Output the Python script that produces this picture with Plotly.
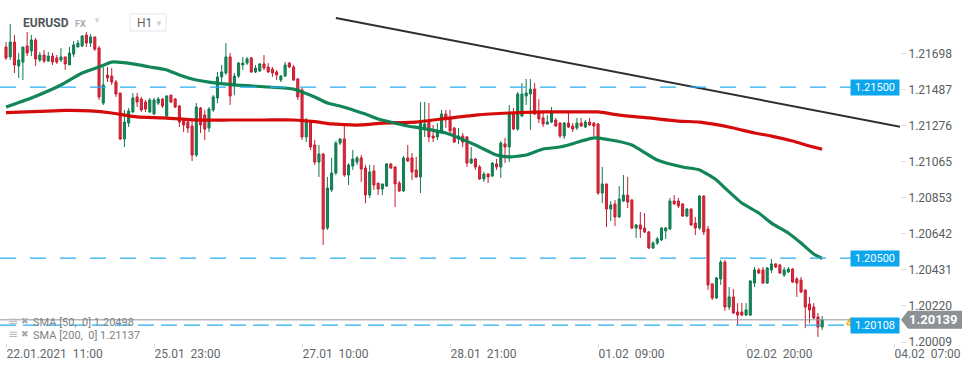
import plotly.graph_objects as go

# ---------------- data (EURUSD, H1) ----------------
open_ = [1.21735,1.21677,1.21764,1.21624,1.21647,1.21741,1.21712,1.21776,1.21659,1.21688,
1.21653,1.21682,1.21671,1.21659,1.21677,1.21630,1.21694,1.21735,1.21741,1.21805,
1.21758,1.21794,1.21729,1.21407,1.21571,1.21565,1.21530,1.21466,1.21197,1.21290,
1.21355,1.21443,1.21431,1.21413,1.21355,1.21343,1.21407,1.21431,1.21331,1.21454,
1.21431,1.21390,1.21302,1.21296,1.21273,1.21103,1.21378,1.21337,1.21261,1.21367,
1.21437,1.21560,1.21583,1.21677,1.21507,1.21565,1.21630,1.21641,1.21671,1.21589,
1.21595,1.21636,1.21618,1.21606,1.21589,1.21542,1.21565,1.21641,1.21618,1.21548,
1.21484,1.21209,1.21296,1.21162,1.21062,1.21109,1.20676,1.20899,1.20998,1.21173,
1.21197,1.20986,1.21039,1.21062,1.21086,1.21027,1.20869,1.21010,1.20939,1.20904,
1.20922,1.21051,1.21033,1.20939,1.20893,1.21086,1.21086,1.21016,1.20975,1.21267,
1.21296,1.21214,1.21209,1.21238,1.21343,1.21314,1.21261,1.21197,1.21214,1.21209,
1.21056,1.21080,1.21033,1.20963,1.20992,1.20980,1.21051,1.21033,1.21168,1.21150,
1.21343,1.21255,1.21331,1.21448,1.21460,1.21489,1.21349,1.21320,1.21285,1.21296,
1.21308,1.21290,1.21214,1.21290,1.21273,1.21261,1.21290,1.21267,1.21296,1.21290,
1.21285,1.20881,1.20934,1.20787,1.20817,1.20741,1.20834,1.20869,1.20840,1.20676,
1.20694,1.20676,1.20653,1.20559,1.20588,1.20606,1.20659,1.20670,1.20834,1.20834,
1.20817,1.20746,1.20787,1.20705,1.20676,1.20863,1.20670,1.20349,1.20267,1.20378,
1.20477,1.20214,1.20273,1.20185,1.20185,1.20167,1.20167,1.20354,1.20431,1.20431,
1.20354,1.20431,1.20466,1.20460,1.20401,1.20419,1.20436,1.20378,1.20372,1.20314,
1.20232,1.20214,1.20156,1.20097]

high = [1.21764,1.21870,1.21805,1.21700,1.21735,1.21823,1.21805,1.21788,1.21706,1.21718,
1.21706,1.21700,1.21688,1.21729,1.21677,1.21735,1.21770,1.21776,1.21805,1.21823,
1.21811,1.21794,1.21741,1.21618,1.21618,1.21612,1.21542,1.21466,1.21367,1.21378,
1.21466,1.21466,1.21443,1.21425,1.21437,1.21437,1.21443,1.21437,1.21454,1.21454,
1.21437,1.21396,1.21320,1.21308,1.21308,1.21407,1.21384,1.21367,1.21384,1.21454,
1.21589,1.21630,1.21758,1.21700,1.21583,1.21647,1.21677,1.21677,1.21677,1.21630,
1.21641,1.21688,1.21641,1.21618,1.21601,1.21571,1.21647,1.21647,1.21630,1.21554,
1.21495,1.21320,1.21308,1.21191,1.21162,1.21115,1.20975,1.21086,1.21185,1.21203,
1.21279,1.21056,1.21133,1.21097,1.21103,1.21045,1.21045,1.21045,1.20939,1.20934,
1.21056,1.21056,1.21039,1.20951,1.21097,1.21162,1.21115,1.21092,1.21413,1.21413,
1.21407,1.21279,1.21290,1.21367,1.21367,1.21367,1.21267,1.21261,1.21232,1.21214,
1.21150,1.21086,1.21045,1.21004,1.20998,1.21062,1.21080,1.21185,1.21203,1.21396,
1.21378,1.21472,1.21524,1.21548,1.21548,1.21524,1.21431,1.21349,1.21337,1.21384,
1.21320,1.21296,1.21296,1.21355,1.21290,1.21320,1.21320,1.21308,1.21320,1.21296,
1.21290,1.21033,1.20934,1.20834,1.20840,1.20922,1.20986,1.20975,1.20846,1.20700,
1.20770,1.20764,1.20659,1.20600,1.20624,1.20682,1.20682,1.20852,1.20869,1.20852,
1.20822,1.20793,1.20793,1.20741,1.20869,1.20869,1.20688,1.20354,1.20390,1.20489,
1.20489,1.20331,1.20319,1.20237,1.20237,1.20237,1.20372,1.20448,1.20442,1.20448,
1.20448,1.20495,1.20471,1.20466,1.20448,1.20448,1.20442,1.20390,1.20390,1.20314,
1.20273,1.20237,1.20179,1.20161]

low = [1.21659,1.21659,1.21583,1.21554,1.21542,1.21682,1.21682,1.21624,1.21647,1.21641,
1.21647,1.21630,1.21636,1.21647,1.21601,1.21630,1.21677,1.21735,1.21735,1.21735,
1.21735,1.21712,1.21425,1.21396,1.21530,1.21513,1.21443,1.21191,1.21150,1.21267,
1.21349,1.21384,1.21355,1.21355,1.21349,1.21337,1.21396,1.21378,1.21326,1.21407,
1.21378,1.21267,1.21238,1.21232,1.21068,1.21092,1.21232,1.21191,1.21238,1.21355,
1.21407,1.21524,1.21571,1.21396,1.21454,1.21554,1.21601,1.21630,1.21583,1.21583,
1.21589,1.21601,1.21583,1.21560,1.21542,1.21530,1.21560,1.21612,1.21536,1.21425,
1.21191,1.21179,1.21133,1.21045,1.20975,1.20577,1.20665,1.20887,1.20986,1.21162,
1.20975,1.20928,1.21016,1.21045,1.20945,1.20822,1.20852,1.20899,1.20869,1.20869,
1.20916,1.21021,1.20799,1.20887,1.20887,1.21062,1.20957,1.20969,1.20881,1.21209,
1.21179,1.21179,1.21191,1.21232,1.21261,1.21232,1.21173,1.21168,1.21150,1.21033,
1.21051,1.21016,1.20957,1.20945,1.20939,1.20975,1.21016,1.20969,1.21056,1.21062,
1.21250,1.21244,1.21326,1.21396,1.21250,1.21337,1.21290,1.21267,1.21279,1.21290,
1.21267,1.21203,1.21197,1.21261,1.21238,1.21250,1.21267,1.21261,1.21273,1.21214,
1.20869,1.20822,1.20682,1.20717,1.20688,1.20735,1.20828,1.20793,1.20670,1.20618,
1.20618,1.20647,1.20553,1.20553,1.20577,1.20600,1.20612,1.20665,1.20811,1.20793,
1.20741,1.20741,1.20688,1.20635,1.20665,1.20635,1.20314,1.20255,1.20261,1.20343,
1.20191,1.20197,1.20173,1.20109,1.20161,1.20161,1.20161,1.20331,1.20407,1.20349,
1.20349,1.20413,1.20442,1.20407,1.20390,1.20413,1.20354,1.20273,1.20296,1.20091,
1.20120,1.20144,1.20039,1.20080]

close = [1.21671,1.21764,1.21630,1.21659,1.21735,1.21700,1.21776,1.21665,1.21688,1.21653,
1.21682,1.21647,1.21647,1.21677,1.21636,1.21700,1.21747,1.21758,1.21799,1.21758,
1.21794,1.21723,1.21443,1.21513,1.21554,1.21530,1.21460,1.21197,1.21296,1.21361,
1.21437,1.21413,1.21367,1.21372,1.21425,1.21425,1.21431,1.21390,1.21448,1.21413,
1.21384,1.21296,1.21279,1.21261,1.21103,1.21384,1.21279,1.21255,1.21372,1.21443,
1.21560,1.21589,1.21677,1.21448,1.21565,1.21641,1.21641,1.21665,1.21589,1.21612,
1.21636,1.21612,1.21589,1.21583,1.21571,1.21565,1.21630,1.21618,1.21542,1.21443,
1.21209,1.21296,1.21150,1.21062,1.21109,1.20670,1.20910,1.20998,1.21173,1.21197,
1.20986,1.21045,1.21080,1.21086,1.21021,1.20869,1.21004,1.20928,1.20904,1.20934,
1.21051,1.21027,1.20934,1.20893,1.21086,1.21068,1.21004,1.20975,1.21290,1.21285,
1.21209,1.21203,1.21238,1.21343,1.21308,1.21244,1.21179,1.21214,1.21179,1.21056,
1.21080,1.21033,1.20963,1.20992,1.20975,1.21056,1.21033,1.21173,1.21150,1.21343,
1.21255,1.21460,1.21460,1.21466,1.21489,1.21343,1.21314,1.21285,1.21296,1.21349,
1.21273,1.21214,1.21290,1.21267,1.21255,1.21290,1.21273,1.21296,1.21279,1.21273,
1.20881,1.20934,1.20787,1.20811,1.20741,1.20846,1.20869,1.20828,1.20676,1.20694,
1.20670,1.20653,1.20559,1.20588,1.20612,1.20676,1.20676,1.20834,1.20817,1.20805,
1.20746,1.20787,1.20694,1.20676,1.20863,1.20653,1.20343,1.20267,1.20384,1.20477,
1.20214,1.20273,1.20179,1.20167,1.20167,1.20197,1.20366,1.20431,1.20413,1.20354,
1.20442,1.20466,1.20448,1.20413,1.20431,1.20436,1.20360,1.20354,1.20302,1.20214,
1.20197,1.20150,1.20097,1.20139]

bars = list(range(len(close)))

sma50_bar = [0,6,13,18,22,25,30,34,38,41,44,48,54,62,68,70,73,76,79,82,85,88,92,95,98,
             104,111,116,119,123,127,131,133,139,143,148,154,160,164,168,170,174,178,181,
             185,188,191,193]
sma50 = [1.21384,1.21437,1.21513,1.21583,1.21618,1.21647,1.21636,1.21618,1.21601,1.21571,
         1.21548,1.21530,1.21513,1.21501,1.21489,1.21472,1.21443,1.21407,1.21390,1.21367,
         1.21343,1.21314,1.21290,1.21273,1.21261,1.21232,1.21162,1.21103,1.21092,1.21103,
         1.21138,1.21150,1.21162,1.21203,1.21191,1.21162,1.21074,1.21033,1.21016,1.20957,
         1.20910,1.20822,1.20764,1.20705,1.20647,1.20588,1.20524,1.20498]

sma200_bar = [0,8,14,20,25,31,37,45,53,61,68,73,77,84,89,97,103,111,119,127,136,140,145,
              152,159,164,167,172,177,181,186,190,193]
sma200 = [1.21351,1.21358,1.21364,1.21361,1.21349,1.21326,1.21320,1.21308,1.21308,1.21308,
          1.21308,1.21298,1.21285,1.21279,1.21290,1.21296,1.21314,1.21337,1.21349,1.21355,
          1.21355,1.21355,1.21337,1.21320,1.21302,1.21296,1.21285,1.21261,1.21232,1.21214,
          1.21185,1.21156,1.21137]

trend_bar = [78, 211.6]
trend_price = [1.21905, 1.21267]

levels = [1.21500, 1.20500, 1.20108]
last_price = 1.20139

x_tick_bars = [0, 35, 70, 105, 140, 175, 210]
x_tick_text = ["22.01.2021\u00a0\u00a011:00", "25.01\u00a0\u00a023:00", "27.01\u00a0\u00a010:00",
               "28.01\u00a0\u00a021:00", "01.02\u00a0\u00a009:00", "02.02\u00a0\u00a020:00",
               "04.02\u00a0\u00a007:00"]
y_ticks = [1.21698, 1.21487, 1.21276, 1.21065, 1.20853, 1.20642, 1.20431, 1.20220, 1.20009]

# ---------------- figure ----------------
W, H = 970, 368
ML, MR, MT, MB = 0, 70, 0, 25
PW, PH = W - ML - MR, H - MT - MB
YMIN, YMAX = 1.200035, 1.22010
PX = (YMAX - YMIN) / PH  # price per pixel


def px_x(p):
    return p / PW


def px_y(p):
    return 1 - p / PH


FONT = "Roboto, Arial, sans-serif"

fig = go.Figure()
fig.add_trace(go.Candlestick(
    x=bars, open=open_, high=high, low=low, close=close,
    increasing=dict(fillcolor="#16875a", line=dict(color="#0e7a4e", width=1)),
    decreasing=dict(fillcolor="#dc2b3e", line=dict(color="#c81c30", width=1)),
    whiskerwidth=0, showlegend=False, hoverinfo="skip"))

fig.add_trace(go.Scatter(x=sma200_bar, y=sma200, mode="lines", line=dict(color="#d40000", width=3.2, shape="spline", smoothing=0.5),
                         showlegend=False, hoverinfo="skip", opacity=0.95))
fig.add_trace(go.Scatter(x=sma50_bar, y=sma50, mode="lines", line=dict(color="#07804f", width=3.2, shape="spline", smoothing=0.5),
                         showlegend=False, hoverinfo="skip", opacity=0.95))
fig.add_trace(go.Scatter(x=trend_bar, y=trend_price, mode="lines", line=dict(color="#2b2f35", width=2),
                         showlegend=False, hoverinfo="skip"))

shapes = []
# horizontal levels
for lv in levels:
    dash = "16px,7px" if lv < 1.203 else "16px,14px"
    shapes.append(dict(type="line", xref="paper", yref="y", x0=0, x1=px_x(853), y0=lv, y1=lv,
                       line=dict(color="#29aef0", width=1.3, dash=dash), layer="above"))
# current price line
shapes.append(dict(type="line", xref="paper", yref="y", x0=0, x1=1, y0=last_price, y1=last_price,
                   line=dict(color="#8f9496", width=1), layer="above"))
# last price tag (arrow-shaped)
hh = 9 * PX
xa, xb, xc = px_x(901), px_x(908), px_x(962)
shapes.append(dict(type="path", xref="paper", yref="y",
                   path=f"M {xa},{last_price} L {xb},{last_price + hh} L {xc},{last_price + hh} L {xc},{last_price - hh} L {xb},{last_price - hh} Z",
                   fillcolor="#8c9195", line=dict(width=0), layer="above"))
# H1 box
shapes.append(dict(type="rect", xref="paper", yref="paper", x0=px_x(130), x1=px_x(166),
                   y0=px_y(31), y1=px_y(14), line=dict(color="#e3e5e7", width=1)))

ann = []
# header
ann.append(dict(x=px_x(21), y=px_y(23), xref="paper", yref="paper", xanchor="left", yanchor="middle",
                text="<b>EURUSD</b>", showarrow=False, font=dict(family=FONT, size=12, color="#4f555b")))
ann.append(dict(x=px_x(73), y=px_y(24), xref="paper", yref="paper", xanchor="left", yanchor="middle",
                text="<b>FX</b>", showarrow=False, font=dict(family=FONT, size=9, color="#a6adb3")))
ann.append(dict(x=px_x(91), y=px_y(21), xref="paper", yref="paper", xanchor="left", yanchor="middle",
                text="▼", showarrow=False, font=dict(family=FONT, size=8, color="#cfd3d6")))
ann.append(dict(x=px_x(135), y=px_y(23), xref="paper", yref="paper", xanchor="left", yanchor="middle",
                text="H1", showarrow=False, font=dict(family=FONT, size=12, color="#5f6368")))
ann.append(dict(x=px_x(153), y=px_y(23), xref="paper", yref="paper", xanchor="left", yanchor="middle",
                text="▼", showarrow=False, font=dict(family=FONT, size=8, color="#c9cdd0")))
# SMA legend (bottom-left)
for ypix, txt in [(322, "SMA\u00a0[50,\u00a0\u00a00]\u00a01.20498"), (335, "SMA\u00a0[200,\u00a0\u00a00]\u00a01.21137")]:
    ann.append(dict(x=px_x(6), y=px_y(ypix - 1), xref="paper", yref="paper", xanchor="left", yanchor="middle",
                    text="≡", showarrow=False, font=dict(family="DejaVu Sans", size=12, color="#b4b8bb")))
    ann.append(dict(x=px_x(19), y=px_y(ypix - 1), xref="paper", yref="paper", xanchor="left", yanchor="middle",
                    text="✖", showarrow=False, font=dict(family="DejaVu Sans", size=9, color="#a3a7aa")))
    ann.append(dict(x=px_x(31), y=px_y(ypix), xref="paper", yref="paper", xanchor="left", yanchor="middle",
                    text=txt, showarrow=False, font=dict(family=FONT, size=11, color="#7d8286")))
# countdown (partly hidden behind the level label, as in the original)
ann.append(dict(x=px_x(844), y=last_price - 3 * PX, xref="paper", yref="y", xanchor="left", yanchor="middle",
                text="<b>48\u00a0:\u00a038</b>", showarrow=False, font=dict(family=FONT, size=12, color="#f5a623")))
# level labels
for lv in levels:
    ann.append(dict(x=1.0, y=lv, xref="paper", yref="y", xanchor="right", yanchor="middle",
                    text=f"{lv:.5f}", showarrow=False, bgcolor="#0ba6ee", borderpad=2, width=44, height=11,
                    font=dict(family=FONT, size=11, color="white")))
# last price label
ann.append(dict(x=px_x(934), y=last_price, xref="paper", yref="y", xanchor="center", yanchor="middle",
                text=f"<b>{last_price:.5f}</b>", showarrow=False,
                font=dict(family=FONT, size=13, color="white")))

fig.update_layout(
    width=W, height=H, margin=dict(l=ML, r=MR, t=MT, b=MB),
    paper_bgcolor="white", plot_bgcolor="white",
    shapes=shapes, annotations=ann, showlegend=False, hovermode=False,
    font=dict(family=FONT),
    xaxis=dict(range=[-1.42, 211.4], showgrid=False, zeroline=False, showline=False,
               tickmode="array", tickvals=x_tick_bars, ticktext=x_tick_text,
               ticks="outside", ticklen=4, tickcolor="#dcdcdc", tickwidth=1,
               ticklabelposition="outside right",
               tickfont=dict(family=FONT, size=12, color="#62676b"),
               rangeslider=dict(visible=False), fixedrange=True),
    yaxis=dict(range=[YMIN, YMAX], side="right", showgrid=False, zeroline=False, showline=False,
               tickmode="array", tickvals=y_ticks, ticktext=[f"{v:.5f}" for v in y_ticks],
               ticks="outside", ticklen=5, tickcolor="#dcdcdc", tickwidth=1,
               tickfont=dict(family=FONT, size=12, color="#585d61"), fixedrange=True),
)

fig.write_html("out.html", config={"displayModeBar": False},
               post_script="document.body.style.margin='0';document.body.style.overflow='hidden';")
